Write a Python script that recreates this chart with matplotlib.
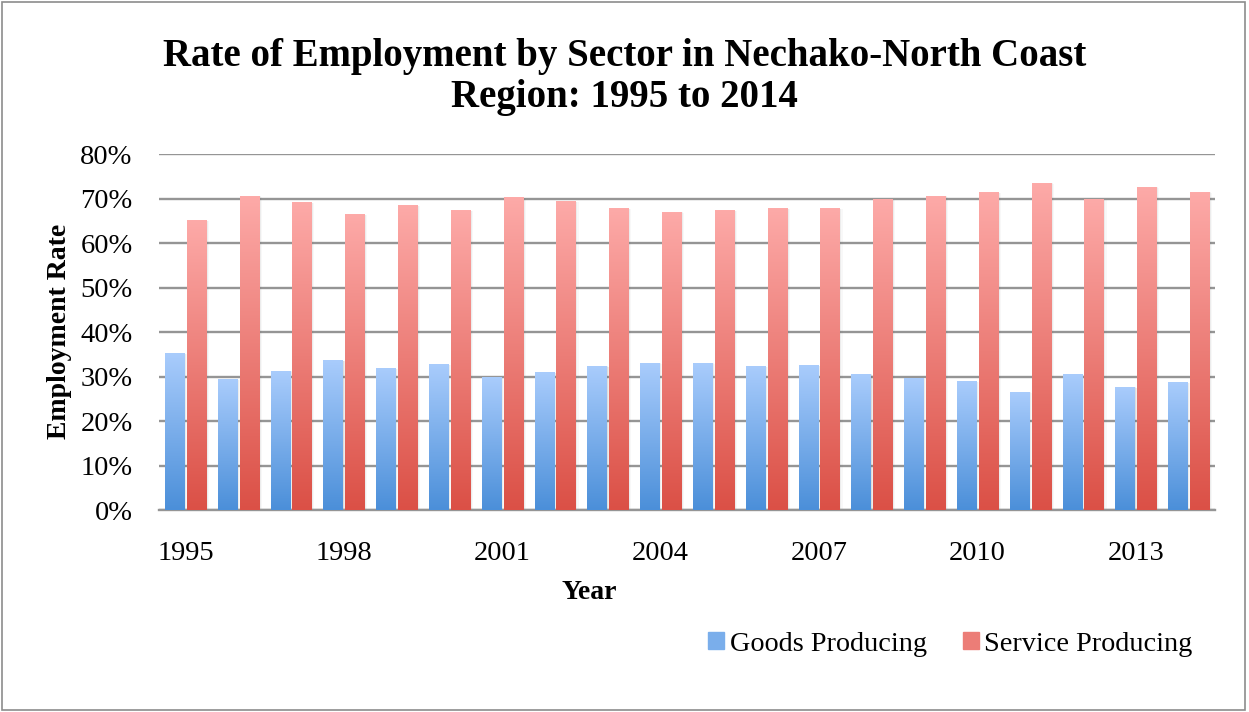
import numpy as np
import matplotlib
matplotlib.use("Agg")
import matplotlib.pyplot as plt
from matplotlib.colors import LinearSegmentedColormap
from matplotlib.patches import Patch, Rectangle

years = list(range(1995, 2015))
goods = [35.2, 29.4, 31.2, 33.6, 31.8, 32.7, 29.7, 30.9, 32.3, 33.0,
         33.0, 32.3, 32.5, 30.5, 29.6, 28.9, 26.5, 30.5, 27.6, 28.7]
service = [65.0, 70.6, 69.1, 66.4, 68.4, 67.3, 70.2, 69.3, 67.7, 67.0,
           67.3, 67.7, 67.7, 69.8, 70.6, 71.3, 73.5, 69.8, 72.6, 71.5]
tick_years = [1995, 1998, 2001, 2004, 2007, 2010, 2013]

plt.rcParams["font.family"] = ["Liberation Serif", "DejaVu Serif"]

blue_cmap = LinearSegmentedColormap.from_list("blue", ["#4b8fd9", "#a9ccfc"])
red_cmap = LinearSegmentedColormap.from_list("red", ["#db5046", "#fdaaa8"])

fig = plt.figure(figsize=(12.49, 7.12), dpi=100)
ax = fig.add_axes([0.1273, 0.2837, 0.8455, 0.4996])

x = np.arange(len(years))
width = 0.36
offset = 0.205


def gradient_bars(xpos, values, cmap, label):
    bars = ax.bar(xpos, values, width, color=cmap(0.5), label=label, zorder=2)
    grad = np.linspace(0, 1, 256).reshape(-1, 1)
    for b in bars:
        x0, w, h = b.get_x(), b.get_width(), b.get_height()
        # soft shadow to the right
        for i, a in enumerate([0.10, 0.07, 0.04]):
            ax.add_patch(Rectangle((x0 + 0.02 * (i + 1), 0), w, h - 0.05 * i,
                                   color="#555555", alpha=a, lw=0, zorder=1.5))
        ax.imshow(grad, extent=[x0, x0 + w, 0, h], origin="lower", cmap=cmap,
                  aspect="auto", zorder=3)
    return bars


gradient_bars(x - offset, goods, blue_cmap, "Goods Producing")
gradient_bars(x + offset, service, red_cmap, "Service Producing")

ax.set_xlim(-0.5, len(years) - 0.5)
ax.set_ylim(0, 80)
ax.set_yticks(np.arange(0, 81, 10))
ax.set_yticklabels([f"{v}%" for v in range(0, 81, 10)])
ax.set_xticks([years.index(y) for y in tick_years])
ax.set_xticklabels([str(y) for y in tick_years])
ax.tick_params(length=0, labelsize=20.5)
ax.tick_params(axis="y", pad=19)
ax.tick_params(axis="x", pad=22)

ax.yaxis.grid(True, color="#959595", linewidth=1.7, zorder=0)
ax.set_axisbelow(True)
for side in ["top", "right", "left"]:
    ax.spines[side].set_visible(False)
ax.spines["bottom"].set_color("#959595")
ax.spines["bottom"].set_linewidth(1.7)

fig.suptitle("Rate of Employment by Sector in Nechako-North Coast\nRegion: 1995 to 2014",
             x=0.5, y=0.946, va="top", fontsize=28, fontweight="bold", linespacing=1.12)
fig.text(0.048, 0.535, "Employment Rate", rotation=90, ha="center", va="center",
         fontsize=20, fontweight="bold")
fig.text(0.4716, 0.168, "Year", ha="center", va="center", fontsize=20, fontweight="bold")

handles = [Patch(color=blue_cmap(0.5)), Patch(color=red_cmap(0.5))]
fig.legend(handles, ["Goods Producing", "Service Producing"], loc="center",
           bbox_to_anchor=(0.761, 0.095), ncol=2, frameon=False, fontsize=20.3,
           handlelength=0.55, handleheight=0.55, handletextpad=0.2, columnspacing=1.3)

fig.add_artist(Rectangle((0.002, 0.003), 0.995, 0.994, transform=fig.transFigure,
                         fill=False, edgecolor="#8c8c8c", linewidth=1.2))

fig.savefig("out.png", dpi=100)
